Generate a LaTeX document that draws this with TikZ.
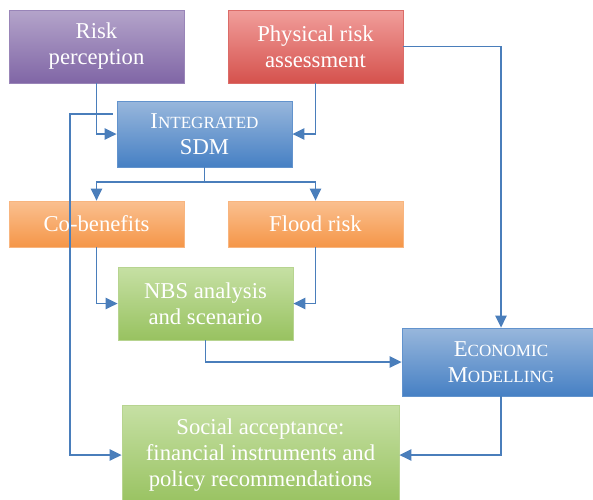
\documentclass[tikz,border=0pt]{standalone}
\usepackage{fontspec}
\setmainfont{Liberation Serif}
\usetikzlibrary{arrows.meta,calc}

\definecolor{linecol}{RGB}{74,126,187}
\definecolor{purpletop}{RGB}{180,164,202}
\definecolor{purplebot}{RGB}{128,102,166}
\definecolor{redtop}{RGB}{241,158,155}
\definecolor{redbot}{RGB}{213,82,77}
\definecolor{bluetop}{RGB}{152,183,220}
\definecolor{bluebot}{RGB}{70,128,196}
\definecolor{orangetop}{RGB}{250,192,144}
\definecolor{orangebot}{RGB}{245,150,72}
\definecolor{greentop}{RGB}{198,224,164}
\definecolor{greenbot}{RGB}{152,194,96}

% fake small caps: big first letter, rest smaller
\newcommand{\smcap}[2]{#1{\fontsize{12.8}{19.5}\selectfont #2}}

\tikzset{
  box/.style={draw, line width=0.6pt, inner sep=0pt, align=center, text=white,
    font=\fontsize{17}{19.5}\selectfont},
  purplebox/.style={box, draw=purplebot!80, top color=purpletop, bottom color=purplebot},
  redbox/.style={box, draw=redbot!85, top color=redtop, bottom color=redbot},
  bluebox/.style={box, draw=bluebot!85, top color=bluetop, bottom color=bluebot},
  orangebox/.style={box, draw=orangebot!70, top color=orangetop, bottom color=orangebot},
  greenbox/.style={box, draw=greenbot!70, top color=greentop, bottom color=greenbot},
  flow/.style={draw=linecol, line width=1.4pt, -{Triangle[length=9pt,width=8.5pt]}}
}

\begin{document}
\begin{tikzpicture}[x=0.75pt,y=0.75pt,yscale=-1,xscale=1]
	\useasboundingbox (0,0) rectangle (593,500);
	
	% top row
	\node [purplebox, minimum width=131.25pt, minimum height=54.75pt] (risk) at (96.5,46.5) {Risk\\perception};
	\node [redbox, minimum width=131.25pt, minimum height=54.75pt] (phys) at (315.5,46.5) {Physical risk\\assessment};
	% SDM
	\node [bluebox, minimum width=131.25pt, minimum height=49.5pt] (sdm) at (204.5,134) {\smcap{I}{NTEGRATED}\\SDM};
	% orange row
	\node [orangebox, minimum width=131.25pt, minimum height=34.5pt] (cob) at (96.5,224) {Co-benefits};
	\node [orangebox, minimum width=131.25pt, minimum height=34.5pt] (flood) at (315.5,224) {Flood risk};
	% NBS
	\node [greenbox, minimum width=131.25pt, minimum height=54.75pt] (nbs) at (205.5,303.5) {NBS analysis\\and scenario};
	% economic
	\node [bluebox, minimum width=148.5pt, minimum height=51pt] (econ) at (501,362) {\smcap{E}{CONOMIC}\\\smcap{M}{ODELLING}};
	% social
	\node [greenbox, minimum width=207.75pt, minimum height=75pt] (social) at (260.5,455) {Social acceptance:\\financial instruments and\\policy recommendations};
	
	% connectors
	\draw [flow] (risk.south) |- (sdm.west);
	\draw [flow] (phys.south) |- (sdm.east);
	\draw [flow] (phys.east) -| (econ.north);
	\draw [flow] (sdm.south) -- ++(0,15) -| (cob.north);
	\draw [flow] (sdm.south) -- ++(0,15) -| (flood.north);
	\draw [flow] (cob.south) |- (nbs.west);
	\draw [flow] (flood.south) |- (nbs.east);
	\draw [flow] (nbs.south) |- (econ.west);
	\draw [flow] (econ.south) |- (social.east);
	\draw [flow] ($(sdm.west)+(-4,-20)$) -- ++(-43,0) |- (social.west);
	
\end{tikzpicture}
\end{document}
